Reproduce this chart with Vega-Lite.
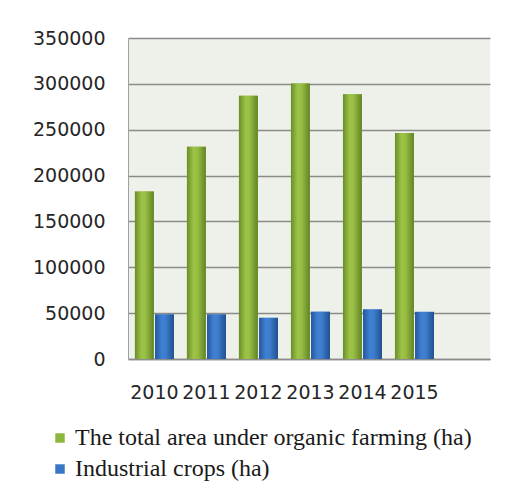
{
  "$schema": "https://vega.github.io/schema/vega-lite/v6.json",
  "width": 362,
  "height": 321,
  "autosize": {"type": "none"},
  "padding": {"left": 128, "top": 38, "right": 18, "bottom": 138},
  "background": "white",
  "config": {
    "view": {"fill": "#EEF1EA", "stroke": null},
    "axis": {"labelFont": "DejaVu Sans", "labelFontSize": 19, "labelColor": "#262626", "title": null}
  },
  "data": {
    "values": [
      {"year": "2010", "series": "The total area under organic farming (ha)", "area": 182600},
      {"year": "2011", "series": "The total area under organic farming (ha)", "area": 231500},
      {"year": "2012", "series": "The total area under organic farming (ha)", "area": 287000},
      {"year": "2013", "series": "The total area under organic farming (ha)", "area": 300500},
      {"year": "2014", "series": "The total area under organic farming (ha)", "area": 288800},
      {"year": "2015", "series": "The total area under organic farming (ha)", "area": 246400},
      {"year": "2010", "series": "Industrial crops (ha)", "area": 48600},
      {"year": "2011", "series": "Industrial crops (ha)", "area": 48600},
      {"year": "2012", "series": "Industrial crops (ha)", "area": 44900},
      {"year": "2013", "series": "Industrial crops (ha)", "area": 51400},
      {"year": "2014", "series": "Industrial crops (ha)", "area": 54000},
      {"year": "2015", "series": "Industrial crops (ha)", "area": 51400}
    ]
  },
  "encoding": {
    "x": {
      "field": "year", "type": "nominal",
      "scale": {"paddingInner": 0.25, "paddingOuter": 0.605, "align": 0.11},
      "axis": {"labelAngle": 0, "tickSize": 0, "labelPadding": 24, "domainColor": "#8C8C8C", "domainWidth": 1.5, "grid": false}
    },
    "xOffset": {
      "field": "series", "type": "nominal",
      "scale": {"domain": ["The total area under organic farming (ha)", "Industrial crops (ha)"], "paddingInner": 0.06}
    },
    "y": {
      "field": "area", "type": "quantitative",
      "scale": {"domain": [0, 350000], "nice": false},
      "axis": {"values": [0, 50000, 100000, 150000, 200000, 250000, 300000, 350000], "format": "d", "tickSize": 0, "labelPadding": 23, "domain": true, "domainColor": "#A0A0A0", "domainWidth": 1, "gridColor": "#8A8A8A", "gridWidth": 1.5}
    }
  },
  "layer": [
    {
      "mark": {"type": "bar"},
      "encoding": {
        "color": {
          "field": "series", "type": "nominal",
          "scale": {"domain": ["The total area under organic farming (ha)", "Industrial crops (ha)"], "range": ["#8DB63E", "#3A76C6"]},
          "legend": {
            "title": null, "orient": "none", "direction": "vertical",
            "legendX": -80, "legendY": 388, "padding": 0,
            "symbolType": "square", "symbolSize": 90, "symbolStrokeWidth": 0,
            "labelFont": "Liberation Serif", "labelFontSize": 24, "labelColor": "#1a1a1a",
            "labelOffset": 3, "rowPadding": 7, "labelLimit": 500
          }
        }
      }
    },
    {
      "mark": {"type": "bar"},
      "encoding": {
        "fill": {
          "condition": {
            "test": "datum.series === 'Industrial crops (ha)'",
            "value": {"gradient": "linear", "x1": 0, "x2": 1, "y1": 0, "y2": 0,
              "stops": [{"offset": 0, "color": "#25579E"}, {"offset": 0.35, "color": "#3F80D2"}, {"offset": 0.55, "color": "#3E7ECF"}, {"offset": 1, "color": "#21508F"}]}
          },
          "value": {"gradient": "linear", "x1": 0, "x2": 1, "y1": 0, "y2": 0,
            "stops": [{"offset": 0, "color": "#6A8E28"}, {"offset": 0.35, "color": "#9CC347"}, {"offset": 0.55, "color": "#98BF44"}, {"offset": 1, "color": "#628424"}]}
        }
      }
    }
  ]
}
